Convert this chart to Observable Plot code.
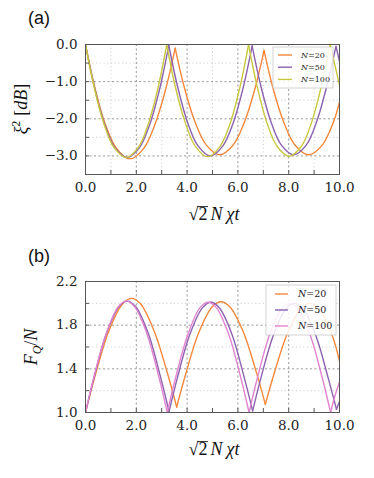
<!DOCTYPE html>
<html><head><meta charset="utf-8">
<script src="https://cdn.jsdelivr.net/npm/d3@7"></script>
<script src="https://cdn.jsdelivr.net/npm/@observablehq/plot@0.6"></script>
<style>
body{margin:0;background:#fff;}
#chart{width:374px;height:478px;position:relative;overflow:hidden;}
#chart svg{display:block;}
</style></head><body><div id="chart"></div>
<script>
const seriesNames = ["N=20", "N=50", "N=100"];
const colorsA = ["#f5883a", "#8c62b0", "#c8c83e"];
const colorsB = ["#f5883a", "#8c62b0", "#e183cf"];

const xTicks = [0, 2, 4, 6, 8, 10];
const xMinor = [1, 3, 5, 7, 9];
const yTicksA = [0, -1, -2, -3];
const yMinorA = [-0.5, -1.5, -2.5];
const yTicksB = [1.0, 1.4, 1.8, 2.2];
const yMinorB = [1.2, 1.6, 2.0];

// panel (a): squeezing xi^2 [dB]
const a20x = [0,0.35,0.78,1.22,1.74,2.28,2.72,3.17,3.53, 3.88,4.32,4.76,5.28,5.80,6.24,6.68,7.03, 7.38,7.82,8.26,8.79,9.32,9.76,10];
const a20y = [0,-1.11,-2.15,-2.80,-3.08,-2.81,-2.18,-1.17,-0.10, -1.13,-2.10,-2.71,-2.97,-2.72,-2.12,-1.17,-0.16, -1.17,-2.12,-2.72,-2.97,-2.71,-2.09,-1.55];
const a50x = [0,0.33,0.74,1.15,1.64,2.13,2.54,2.95,3.28, 3.61,4.02,4.43,4.92,5.41,5.82,6.23,6.56, 6.89,7.30,7.71,8.20,8.69,9.10,9.51,9.86, 10];
const a50y = [0,-1.09,-2.12,-2.77,-3.04,-2.77,-2.13,-1.11,-0.02, -1.09,-2.10,-2.73,-3.00,-2.73,-2.10,-1.10,-0.04, -1.08,-2.08,-2.71,-2.97,-2.71,-2.08,-1.09,-0.05, -0.45];
const a100x = [0,0.32,0.72,1.12,1.60,2.08,2.48,2.88,3.20, 3.52,3.93,4.33,4.81,5.29,5.70,6.10,6.42, 6.74,7.14,7.54,8.02,8.50,8.90,9.30,9.63, 9.80,10];
const a100y = [0,-1.09,-2.12,-2.77,-3.04,-2.77,-2.12,-1.09,0, -1.09,-2.11,-2.75,-3.02,-2.75,-2.11,-1.09,0, -1.08,-2.10,-2.74,-3.01,-2.74,-2.10,-1.08,0, -0.50,-1.10];

// panel (b): F_Q / N
const b20x = [0,0.36,0.90,1.44,1.80,2.15,2.69,3.23,3.59, 3.94,4.46,4.99,5.335,5.68,6.21,6.73,7.08, 7.43,7.96,8.49,8.84,9.19,9.72,10];
const b20y = [1.0,1.32,1.735,1.99,2.045,2.0,1.753,1.357,1.05, 1.348,1.732,1.968,2.015,1.969,1.74,1.365,1.075, 1.36,1.73,1.955,2.0,1.95,1.70,1.47];
const b50x = [0,0.33,0.82,1.32,1.645,1.97,2.47,2.96,3.29, 3.62,4.11,4.61,4.935,5.26,5.76,6.25,6.58, 6.91,7.40,7.90,8.23,8.56,9.06,9.55,9.88, 10];
const b50y = [1.0,1.315,1.721,1.97,2.02,1.971,1.725,1.32,1.01, 1.32,1.717,1.961,2.01,1.962,1.72,1.32,1.015, 1.32,1.71,1.952,2.0,1.952,1.71,1.32,1.03, 1.10];
const b100x = [0,0.32,0.81,1.29,1.61,1.93,2.42,2.90,3.22, 3.54,4.03,4.51,4.83,5.15,5.64,6.12,6.44, 6.76,7.24,7.72,8.05,8.37,8.85,9.33,9.65, 9.83,10];
const b100y = [1.0,1.315,1.72,1.97,2.02,1.97,1.72,1.315,1.0, 1.312,1.714,1.961,2.01,1.961,1.714,1.312,1.0, 1.309,1.707,1.951,2.0,1.951,1.707,1.309,1.0, 1.16,1.28];

// split a series into smooth arches at its cusps
function rows(xs, ys, name, cuspMax) {
  const out = []; let k = 0;
  for (let i = 0; i < xs.length; i++) {
    out.push({x: xs[i], y: ys[i], s: name, z: name + "-" + k});
    if (i > 0 && i < xs.length - 1) {
      const c = cuspMax ? (ys[i] >= ys[i-1] && ys[i] >= ys[i+1]) : (ys[i] <= ys[i-1] && ys[i] <= ys[i+1]);
      if (c) { k++; out.push({x: xs[i], y: ys[i], s: name, z: name + "-" + k}); }
    }
  }
  return out;
}
const dataA = [...rows(a20x, a20y, "N=20", true), ...rows(a50x, a50y, "N=50", true), ...rows(a100x, a100y, "N=100", true)];
const dataB = [...rows(b20x, b20y, "N=20", false), ...rows(b50x, b50y, "N=50", false), ...rows(b100x, b100y, "N=100", false)];

const W = 374;
const fmt = d3.format(".1f");

function makePanel({data, colors, yDomain, yTicks, yMinor, xMinorG, height, mt, mb}) {
  const ml = 85, mr = 35;
  const innerH = height - mt - mb, innerW = W - ml - mr;
  const inner = yTicks.filter(v => v > yDomain[0] && v < yDomain[1]);
  return Plot.plot({
    width: W, height, marginLeft: ml, marginRight: mr, marginTop: mt, marginBottom: mb,
    style: {fontFamily: "DejaVu Serif", fontSize: "13.5px", color: "#222", background: "#fff"},
    x: {domain: [0, 10], ticks: xTicks, tickFormat: fmt, tickSize: 0, tickPadding: 8, label: null},
    y: {domain: yDomain, ticks: yTicks, tickFormat: fmt, tickSize: 0, tickPadding: 8, label: null},
    color: {domain: seriesNames, range: colors},
    marks: [
      Plot.ruleX(xMinorG, {x: d => d, stroke: "#c4c4c4", strokeDasharray: "1.2,2.5", strokeWidth: 0.8}),
      Plot.ruleY(yMinor, {y: d => d, stroke: "#c4c4c4", strokeDasharray: "1.2,2.5", strokeWidth: 0.8}),
      Plot.ruleX(xTicks.slice(1, -1), {x: d => d, stroke: "#8a8a8a", strokeDasharray: "2,2.5", strokeWidth: 0.9}),
      Plot.ruleY(inner, {y: d => d, stroke: "#8a8a8a", strokeDasharray: "2,2.5", strokeWidth: 0.9}),
      Plot.line(data, {x: "x", y: "y", z: "z", stroke: "s", curve: "catmull-rom", strokeWidth: 1.4, clip: true}),
      Plot.tickX([...xTicks, ...xMinor], {x: d => d, insetTop: innerH - 4, stroke: "#555"}),
      Plot.tickY([...yTicks, ...yMinor], {y: d => d, insetRight: innerW - 4, stroke: "#555"}),
      Plot.frame({stroke: "#555"})
    ]
  });
}

function addDecor(svg, {panel, ylabel, ylx, yly, xlabelY, legend, colors}) {
  const s = d3.select(svg);
  s.append("text").attr("x", 28).attr("y", panel.y).attr("text-anchor", "start")
    .attr("font-family", "Liberation Sans, Arial, sans-serif")
    .attr("font-size", 18).attr("fill", "#111").text(panel.t);
  // x label
  const xl = s.append("text").attr("x", 214).attr("y", xlabelY).attr("text-anchor", "middle")
    .attr("font-family", "Liberation Serif, serif").attr("font-size", 18).attr("fill", "#111");
  xl.append("tspan").text("√");
  xl.append("tspan").text("2");
  xl.append("tspan").attr("font-style", "italic").attr("dx", 3).text("N");
  xl.append("tspan").attr("font-style", "italic").attr("dx", 4).text("χt");
  // overline of the radical over "2"
  const xn = xl.node();
  const r1 = xn.getExtentOfChar(0), r2 = xn.getExtentOfChar(1);
  s.append("line").attr("x1", r1.x + r1.width - 1.2).attr("x2", r2.x + r2.width + 0.5)
    .attr("y1", r1.y + 2.6).attr("y2", r1.y + 2.6).attr("stroke", "#111").attr("stroke-width", 0.9);
  // y label
  const yl = s.append("text").attr("transform", `translate(${ylx},${yly}) rotate(-90)`).attr("text-anchor", "middle")
    .attr("font-family", "Liberation Serif, serif").attr("font-size", 18).attr("fill", "#111");
  ylabel(yl);
  // legend
  const g = s.append("g");
  g.append("rect").attr("x", legend.x).attr("y", legend.y).attr("width", legend.w).attr("height", legend.h)
    .attr("fill", "#fff").attr("fill-opacity", 0.85).attr("stroke", "#c8c8c8").attr("stroke-width", 0.8);
  seriesNames.forEach((n, i) => {
    const yy = legend.y + legend.r0 + i * legend.dr;
    g.append("line").attr("x1", legend.x + legend.l0).attr("x2", legend.x + legend.l1).attr("y1", yy).attr("y2", yy)
      .attr("stroke", colors[i]).attr("stroke-width", 1.4);
    const t = g.append("text").attr("x", legend.x + legend.tx).attr("y", yy).attr("dy", "0.35em")
      .attr("text-anchor", "start")
      .attr("font-family", "DejaVu Serif, serif").attr("font-size", legend.fs).attr("fill", "#222");
    t.append("tspan").attr("font-style", "italic").text("N");
    t.append("tspan").text("=" + n.split("=")[1]);
  });
}

const chart = document.getElementById("chart");
const svgA = makePanel({data: dataA, colors: colorsA, yDomain: [-3.5, 0], yTicks: yTicksA, yMinor: yMinorA, xMinorG: xMinor, height: 240, mt: 44, mb: 66});
chart.appendChild(svgA);
addDecor(svgA, {
  panel: {t: "(a)", y: 24},
  ylx: 27, yly: 109,
  ylabel: yl => {
    yl.append("tspan").attr("font-style", "italic").text("ξ");
    yl.append("tspan").attr("font-size", 12).attr("dy", -7).text("2");
    yl.append("tspan").attr("dy", 7).attr("dx", 5).text("[");
    yl.append("tspan").attr("font-style", "italic").text("dB");
    yl.append("tspan").text("]");
  },
  xlabelY: 220,
  colors: colorsA,
  legend: {x: 273, y: 47, w: 60, h: 41, r0: 8, dr: 12.2, l0: 5, l1: 19, tx: 28, fs: 8}
});

const svgB = makePanel({data: dataB, colors: colorsB, yDomain: [1.0, 2.2], yTicks: yTicksB, yMinor: yMinorB, xMinorG: [], height: 238, mt: 41, mb: 66});
chart.appendChild(svgB);
addDecor(svgB, {
  panel: {t: "(b)", y: 22},
  ylx: 37, yly: 107,
  ylabel: yl => {
    yl.append("tspan").attr("font-style", "italic").text("F");
    yl.append("tspan").attr("font-style", "italic").attr("font-size", 12).attr("dy", 4).text("Q");
    yl.append("tspan").attr("dy", -4).text("/");
    yl.append("tspan").attr("font-style", "italic").text("N");
  },
  xlabelY: 215,
  colors: colorsB,
  legend: {x: 266, y: 45, w: 70, h: 50, r0: 9, dr: 16, l0: 9, l1: 22, tx: 32, fs: 9.5}
});
</script>
</body></html>
